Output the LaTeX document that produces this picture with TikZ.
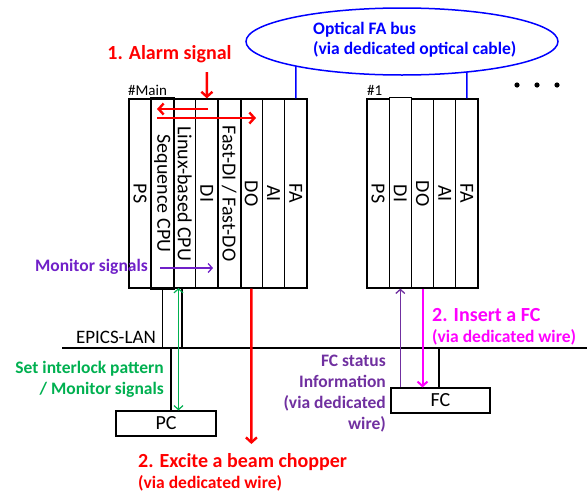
\documentclass[tikz,border=0pt]{standalone}
\usepackage{fontspec}
\setmainfont{Carlito}
\usetikzlibrary{arrows.meta,shapes.geometric,calc}
\definecolor{cred}{RGB}{255,0,0}
\definecolor{cmag}{RGB}{255,0,255}
\definecolor{cgreen}{RGB}{0,176,80}
\definecolor{cblue}{RGB}{0,0,255}
\definecolor{cpurple}{RGB}{112,48,160}
\definecolor{cmon}{RGB}{112,32,200}
\tikzset{
  slot/.style={draw=black, line width=1.2pt, minimum width=22.25pt, minimum height=189pt, inner sep=0pt, font=\fontsize{20}{24}\selectfont},
  slotb/.style={slot, minimum width=22.2pt},
  boxnode/.style={draw=black, line width=1.2pt, inner sep=0pt, font=\fontsize{20}{24}\selectfont},
  wire/.style={draw=black, line width=1.2pt},
  bluel/.style={draw=cblue, line width=1.5pt},
  redarrow/.style={draw=cred, line width=2.4pt, -{Straight Barb[length=5pt,width=11pt]}},
  greenarrow/.style={draw=cgreen, line width=1.2pt, {Straight Barb[length=4pt,width=9pt]}-{Straight Barb[length=4pt,width=9pt]}},
  purplearrow/.style={draw=cpurple, line width=1.3pt, -{Straight Barb[length=4pt,width=9pt]}},
  monarrow/.style={draw=cmon, line width=1.3pt, -{Straight Barb[length=4pt,width=9pt]}},
  magarrow/.style={draw=cmag, line width=2pt, -{Straight Barb[length=4.5pt,width=10pt]}},
  bigtxt/.style={inner sep=0pt, font=\bfseries\fontsize{20}{24}\selectfont},
  smtxt/.style={inner sep=0pt, font=\bfseries\fontsize{17.5}{21}\selectfont},
  plaintxt/.style={inner sep=0pt, font=\fontsize{15}{18}\selectfont},
}
\begin{document}
\begin{tikzpicture}[x=1pt,y=-1pt]
\useasboundingbox (0,0) rectangle (587,493);
% main crate
\foreach \lab [count=\i] in {PS,Sequence CPU,Linux-based CPU,DI,Fast-DI / Fast-DO,DO,AI,FA}
  \node[slot] (m\i) at ({129+22.25*(\i-0.5)},193.5) {\rotatebox{-90}{\lab}};
\draw[line width=2pt] (m2.south west) rectangle (m2.north east);
\draw[line width=1.8pt] (m5.south east) -- (m5.north east);
% crate #1
\foreach \lab [count=\i] in {PS,DI,DO,AI,FA}
  \node[slotb] (s\i) at ({367+22.2*(\i-0.5)},193.5) {\rotatebox{-90}{\lab}};
\node[slotb, minimum height=190.5pt, fill=white] (s2b) at ($(s2)+(0,-0.75)$) {\rotatebox{-90}{\phantom{DI}}};
\node[slotb, draw=none] (s2t) at (s2) {\rotatebox{-90}{DI}};
\node[plaintxt, anchor=south west] (mainlbl) at (128,96) {\#Main};
\node[plaintxt, anchor=south west] (onelbl) at (367,96) {\#1};
% optical bus
\node[draw=cblue, line width=1.5pt, ellipse, minimum width=312pt, minimum height=67pt, inner sep=0pt] (bus) at (402,41.5) {};
\node[inner sep=0pt, font=\bfseries\fontsize{17.5}{20}\selectfont, text=cblue, align=left, anchor=west] (bustxt) at (313,39.5) {Optical FA bus\\(via dedicated optical cable)};
\coordinate (b1) at (295.9,66);
\coordinate (b2) at (466.9,72);
\draw[bluel] (m8.north) -- (b1);
\draw[bluel] (s5.north) -- (b2);
\fill (517,85) circle (2.6) (537,85) circle (2.6) (557,85) circle (2.6);
% alarm
\node[bigtxt, text=cred] (alarm) at (169.5,54) {1. Alarm signal};
\coordinate (alarmtop) at (206.9,72);
\draw[redarrow] (alarmtop) -- (m4.north);
\coordinate (la1) at (208,109);
\coordinate (la2) at (157,109);
\coordinate (ra1) at (157,118);
\coordinate (ra2) at (256,118);
\draw[redarrow] (la1) -- (la2);
\draw[redarrow] (ra1) -- (ra2);
% monitor signals
\node[smtxt, text=cmon, anchor=east] (montxt) at (148,267) {Monitor signals};
\coordinate (mo1) at (160,268);
\coordinate (mo2) at (213,268);
\draw[monarrow] (mo1) -- (mo2);
% EPICS LAN
\coordinate (lanl) at (62,348);
\coordinate (lanr) at (587,348);
\draw[wire] (lanl) -- (lanr);
\node[inner sep=0pt, font=\fontsize{19}{22}\selectfont, anchor=east] (lantxt) at (156,337) {EPICS-LAN};
\node[boxnode, minimum width=100pt, minimum height=25pt] (pc) at (166,423.5) {PC};
\node[boxnode, minimum width=99pt, minimum height=25pt] (fc) at (440.5,400.5) {FC};
\coordinate (c1) at (182,288);
\draw[wire] (m2.south) -- (m2.south |- lanl);
\draw[wire] (c1) -- (c1 |- lanl);
\coordinate (c2) at (171,348);
\draw[wire] (c2) -- (c2 |- pc.north);
\coordinate (g1) at (178.5,288);
\draw[greenarrow] (g1) -- (g1 |- pc.north);
\node[smtxt, text=cgreen, align=right, anchor=east] (greentxt) at (164,379.5) {Set interlock pattern\\/ Monitor signals};
% chopper
\coordinate (ch) at (251.4,444);
\draw[redarrow] (m6.south) -- (ch);
\node[bigtxt, text=cred, anchor=west] (chtxt) at (138,462) {2. Excite a beam chopper};
\node[smtxt, text=cred, anchor=west] (chtxt2) at (138,483) {(via dedicated wire)};
% FC side
\draw[purplearrow] (fc.north -| s2.south) -- (s2.south);
\draw[magarrow] (s3.south) -- (s3.south |- fc.north);
\coordinate (c3) at (439,348);
\draw[wire] (c3) -- (c3 |- fc.north);
\node[bigtxt, text=cmag, anchor=west] (fctxt) at (432,315) {2. Insert a FC};
\node[smtxt, text=cmag, anchor=west] (fctxt2) at (432,337) {(via dedicated wire)};
\node[smtxt, text=cpurple, align=right, anchor=east] (fcstat) at (386,393.5) {FC status\\Information\\(via dedicated\\wire)};
\end{tikzpicture}
\end{document}
